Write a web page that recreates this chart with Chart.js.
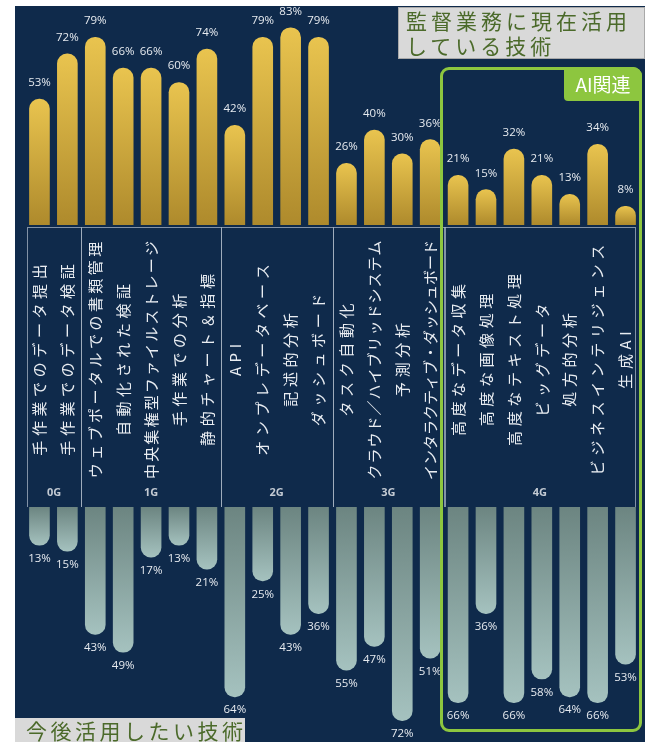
<!DOCTYPE html>
<html lang="ja">
<head>
<meta charset="utf-8">
<script src="https://cdn.jsdelivr.net/npm/chart.js@4.4.1/dist/chart.umd.min.js"></script>
<style>
  html, body { margin: 0; padding: 0; background: #fff; }
  #wrap { position: relative; width: 645px; height: 742px; overflow: hidden; font-family: "Noto Sans CJK JP", sans-serif; }
  #panel { position: absolute; left: 15px; top: 6px; right: 0; bottom: 0; background: #0f2a4b; }
  #topChart { position: absolute; left: 0; top: 0; }
  #bottomChart { position: absolute; left: 0; top: 507px; }
  .tag { position: absolute; background: #d9d9d9; color: #4b6a2a; font-size: 21px; letter-spacing: 4px; white-space: nowrap; }
  #titleNow { left: 398px; top: 7px; width: 247px; height: 52px; border: 1px solid #a9a9a9; box-sizing: border-box; padding: 0 0 0 7px; line-height: 25px; }
  #titleFuture { left: 15px; top: 718px; width: 230px; height: 24px; padding-left: 11px; box-sizing: border-box; line-height: 24px; letter-spacing: 3.5px; }
  #aiBox { position: absolute; left: 440px; top: 67px; width: 202px; height: 665px; border: 3px solid #8dc63f; border-radius: 9px; box-sizing: border-box; }
  #aiTag { position: absolute; left: 564px; top: 67px; width: 78px; height: 34px; background: #8dc63f; color: #fff; font-size: 19px; line-height: 34px; text-align: center; border-radius: 0 9px 0 4px; }
</style>
</head>
<body>
<div id="wrap">
  <div id="panel"></div>
  <canvas id="topChart" width="645" height="507"></canvas>
  <canvas id="bottomChart" width="645" height="235"></canvas>
  <div id="aiBox"></div>
  <div id="aiTag">AI関連</div>
  <div class="tag" id="titleNow">監督業務に現在活用<br>している技術</div>
  <div class="tag" id="titleFuture">今後活用したい技術</div>
</div>
<script>
'use strict';

const groups = ['0G', '1G', '2G', '3G', '4G'];
const groupSizes = [2, 5, 4, 4, 7];

const techNames = [
  '手作業でのデータ提出', '手作業でのデータ検証',
  'ウェブポータルでの書類管理', '自動化された検証', '中央集権型ファイルストレージ', '手作業での分析', '静的チャート＆指標',
  'API', 'オンプレデータベース', '記述的分析', 'ダッシュボード',
  'タスク自動化', 'クラウド／ハイブリッドシステム', '予測分析', 'インタラクティブ・ダッシュボード',
  '高度なデータ収集', '高度な画像処理', '高度なテキスト処理', 'ビッグデータ', '処方的分析', 'ビジネスインテリジェンス', '生成AI'
];

// % currently in use (top) and % wanted in future (bottom)
const currentUse = [53, 72, 79, 66, 66, 60, 74, 42, 79, 83, 79, 26, 40, 30, 36, 21, 15, 32, 21, 13, 34, 8];
const futureUse = [13, 15, 43, 49, 17, 13, 21, 64, 25, 43, 36, 55, 47, 72, 51, 66, 36, 66, 58, 64, 66, 53];

function barGradient(from, to) {
  return function(ctx) {
    const chart = ctx.chart;
    const y = chart.scales.y;
    if (!chart.chartArea || !y || ctx.raw === undefined) return from;
    const end = y.getPixelForValue(ctx.raw);
    const base = y.getPixelForValue(0);
    const g = chart.ctx.createLinearGradient(0, end, 0, base);
    g.addColorStop(0, from);
    g.addColorStop(1, to);
    return g;
  };
}

const valueLabels = {
  id: 'valueLabels',
  afterDatasetsDraw(chart) {
    const c = chart.ctx;
    const down = chart.options.scales.y.reverse;
    const values = chart.data.datasets[0].data;
    c.save();
    c.font = '11.5px "Open Sans", sans-serif';
    c.fillStyle = '#e6eaef';
    c.textAlign = 'center';
    c.textBaseline = 'middle';
    chart.getDatasetMeta(0).data.forEach(function(bar, i) {
      c.fillText(values[i] + '%', bar.x, down ? bar.y + 13 : bar.y - 16);
    });
    c.restore();
  }
};

// names of each technology and the generation boxes between the two charts
const labelBand = {
  id: 'labelBand',
  afterDraw(chart) {
    const c = chart.ctx;
    const x = chart.scales.x;
    const bandTop = chart.chartArea.bottom + 2;
    const bandBottom = bandTop + 280;
    const half = (x.getPixelForValue(1) - x.getPixelForValue(0)) / 2;

    c.save();
    c.strokeStyle = 'rgba(170,182,196,0.75)';
    c.lineWidth = 1;
    c.fillStyle = '#c3cad3';
    c.font = 'bold 11px "Open Sans", sans-serif';
    c.textAlign = 'center';
    c.textBaseline = 'middle';
    let start = 0;
    groupSizes.forEach(function(n, g) {
      let left = x.getPixelForValue(start) - half;
      let right = x.getPixelForValue(start + n - 1) + half;
      if (g === 0) left += 1.5;
      if (g === groupSizes.length - 1) right -= 4;
      c.strokeRect(Math.round(left) + 0.5, bandTop + 0.5, Math.round(right - left), bandBottom - bandTop);
      c.fillText(groups[g], (left + right) / 2, bandBottom - 14);
      start += n;
    });

    // long names get tighter spacing so they stay inside the box
    const fontSize = 15;
    const maxLen = 240;
    c.fillStyle = '#e9edf2';
    c.font = fontSize + 'px "Noto Sans CJK JP", sans-serif';
    techNames.forEach(function(name, i) {
      const n = [...name].length;
      const gap = Math.max(0, Math.min(4.6, (maxLen - n * fontSize) / n));
      c.letterSpacing = gap + 'px';
      c.save();
      c.translate(x.getPixelForValue(i), bandTop + 133);
      c.rotate(-Math.PI / 2);
      c.fillText(name, gap / 2, 0);
      c.restore();
    });
    c.restore();
  }
};

function barOptions(max, reverse, padBottom) {
  return {
    responsive: false,
    animation: false,
    layout: { padding: { left: 25.5, right: 5.5, top: 0, bottom: padBottom } },
    plugins: { legend: { display: false }, tooltip: { enabled: false } },
    scales: {
      x: { display: false },
      y: { display: false, min: 0, max: max, reverse: reverse }
    }
  };
}

new Chart(document.getElementById('topChart'), {
  type: 'bar',
  data: {
    labels: techNames,
    datasets: [{
      data: currentUse,
      backgroundColor: barGradient('#e9c44f', '#ae8a2c'),
      borderRadius: 10,
      borderSkipped: 'start',
      barPercentage: 0.74,
      categoryPercentage: 1
    }]
  },
  options: barOptions(94.5, false, 282),
  plugins: [valueLabels, labelBand]
});

new Chart(document.getElementById('bottomChart'), {
  type: 'bar',
  data: {
    labels: techNames,
    datasets: [{
      data: futureUse,
      backgroundColor: barGradient('#a5c2bf', '#6c8581'),
      borderRadius: 10,
      borderSkipped: 'start',
      barPercentage: 0.74,
      categoryPercentage: 1
    }]
  },
  options: barOptions(79.1, true, 0),
  plugins: [valueLabels]
});
</script>
</body>
</html>
